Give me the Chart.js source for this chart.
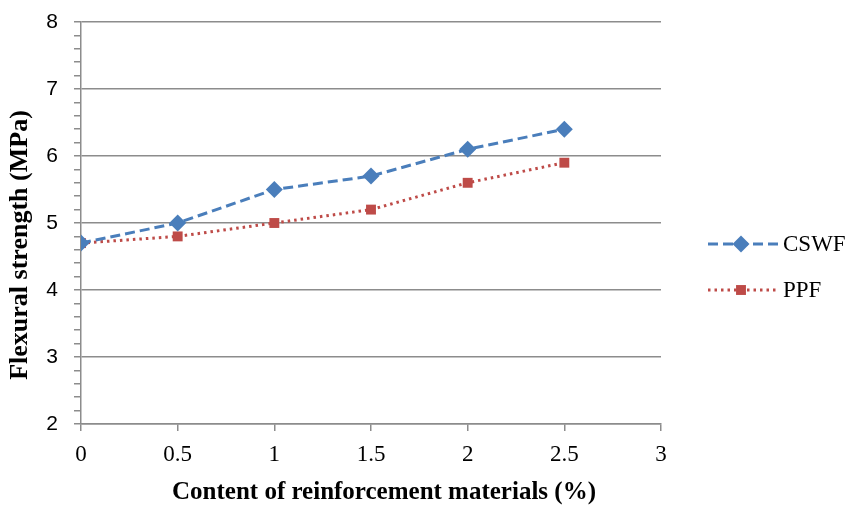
<!DOCTYPE html>
<html><head><meta charset="utf-8">
<script src="https://cdn.jsdelivr.net/npm/chart.js@4"></script>
<style>html,body{margin:0;padding:0;background:#fff}</style>
</head><body>
<canvas id="c" width="853" height="506"></canvas>
<script>
const categories = [0, 0.5, 1, 1.5, 2, 2.5];
const cswfValues = [4.7, 5.0, 5.5, 5.7, 6.1, 6.4];
const ppfValues = [4.7, 4.8, 5.0, 5.2, 5.6, 5.9];
const seriesNames = ['CSWF', 'PPF'];
const xTickLabels = ['0', '0.5', '1', '1.5', '2', '2.5', '3'];
const yTickLabels = ['2', '3', '4', '5', '6', '7', '8'];
const xTitle = 'Content of reinforcement materials (%)';
const yTitle = 'Flexural strength (MPa)';

const GRID = '#8c8c8c';
const SERIF = '"Liberation Serif", "Times New Roman", serif';
const SANS = '"Liberation Sans", Arial, sans-serif';

const isInt = v => Math.abs(v - Math.round(v)) < 1e-6;

const titlePlugin = {
  id: 'axisTitles',
  afterDraw(chart) {
    const ctx = chart.ctx;
    ctx.save();
    ctx.fillStyle = '#000';
    ctx.textAlign = 'center';
    ctx.textBaseline = 'middle';
    ctx.font = 'bold 25px ' + SERIF;
    ctx.fillText(xTitle, 384, 493);
    ctx.translate(20, 245);
    ctx.rotate(-Math.PI / 2);
    ctx.font = 'bold 26px ' + SERIF;
    ctx.fillText(yTitle, 0, 0);
    ctx.restore();
  }
};

const legendPlugin = {
  id: 'sideLegend',
  afterDraw(chart) {
    const ctx = chart.ctx;
    const rows = [244, 290];
    chart.data.datasets.forEach((ds, i) => {
      const y = rows[i];
      ctx.save();
      ctx.strokeStyle = ds.borderColor;
      ctx.lineWidth = ds.borderWidth;
      ctx.setLineDash(ds.borderDash);
      ctx.beginPath();
      ctx.moveTo(708, y);
      ctx.lineTo(779, y);
      ctx.stroke();
      ctx.setLineDash([]);
      ctx.fillStyle = ds.pointBackgroundColor;
      const cx = 741;
      ctx.beginPath();
      if (ds.pointStyle === 'rectRot') {
        const r = ds.pointRadius;
        ctx.moveTo(cx, y - r); ctx.lineTo(cx + r, y); ctx.lineTo(cx, y + r); ctx.lineTo(cx - r, y);
        ctx.closePath();
      } else {
        const s = ds.pointRadius * Math.SQRT1_2;
        ctx.rect(cx - s, y - s, 2 * s, 2 * s);
      }
      ctx.fill();
      ctx.fillStyle = '#000';
      ctx.font = '23px ' + SERIF;
      ctx.textBaseline = 'middle';
      ctx.textAlign = 'left';
      ctx.fillText(ds.label, 783, y + 1);
      ctx.restore();
    });
  }
};

new Chart(document.getElementById('c'), {
  type: 'line',
  data: {
    datasets: [
      {
        label: seriesNames[0],
        data: categories.map((x, i) => ({ x, y: cswfValues[i] })),
        borderColor: '#4A7EBB',
        backgroundColor: '#4A7EBB',
        pointBackgroundColor: '#4A7EBB',
        pointBorderColor: '#4A7EBB',
        borderWidth: 3,
        borderDash: [10, 5],
        pointStyle: 'rectRot',
        pointRadius: 8.5,
        pointBorderWidth: 0,
        tension: 0
      },
      {
        label: seriesNames[1],
        data: categories.map((x, i) => ({ x, y: ppfValues[i] })),
        borderColor: '#BE4B48',
        backgroundColor: '#BE4B48',
        pointBackgroundColor: '#BE4B48',
        pointBorderColor: '#BE4B48',
        borderWidth: 3,
        borderDash: [2.5, 4],
        pointStyle: 'rect',
        pointRadius: 7,
        pointBorderWidth: 0,
        tension: 0
      }
    ]
  },
  options: {
    responsive: false,
    animation: false,
    events: [],
    layout: { autoPadding: false, padding: { top: 22, right: 192, left: 0, bottom: 0 } },
    plugins: { legend: { display: false }, tooltip: { enabled: false } },
    scales: {
      x: {
        type: 'linear',
        min: 0, max: 3,
        afterBuildTicks: s => { s.ticks = xTickLabels.map(t => ({ value: parseFloat(t) })); },
        afterFit: s => { s.height = 82; s.paddingLeft = 0; s.paddingRight = 0; },
        ticks: {
          callback: (v, i) => xTickLabels[i],
          color: '#000',
          font: { family: SERIF, size: 23 },
          padding: 10,
          maxRotation: 0
        },
        grid: { drawOnChartArea: false, drawTicks: true, tickLength: 7, color: GRID, lineWidth: 1.5 },
        border: { display: true, color: GRID, width: 1.5 },
        title: { display: false }
      },
      y: {
        min: 2, max: 8,
        afterBuildTicks: s => {
          const t = [];
          for (let k = 0; k <= 30; k++) t.push({ value: 2 + k * 0.2 });
          s.ticks = t;
        },
        afterFit: s => { s.width = 81; s.paddingTop = 0; s.paddingBottom = 0; },
        ticks: {
          autoSkip: false,
          callback: v => {
            if (!isInt(v)) return '';
            const idx = Math.round(v) - 2;
            return yTickLabels[idx];
          },
          color: '#000',
          font: { family: SANS, size: 21 },
          padding: 16
        },
        grid: {
          drawTicks: true,
          tickLength: 7,
          color: c => (c.tick && isInt(c.tick.value)) ? GRID : 'rgba(0,0,0,0)',
          tickColor: GRID,
          lineWidth: 1.5
        },
        border: { display: true, color: GRID, width: 1.5 },
        title: { display: false }
      }
    }
  },
  plugins: [titlePlugin, legendPlugin]
});
</script>
</body></html>
